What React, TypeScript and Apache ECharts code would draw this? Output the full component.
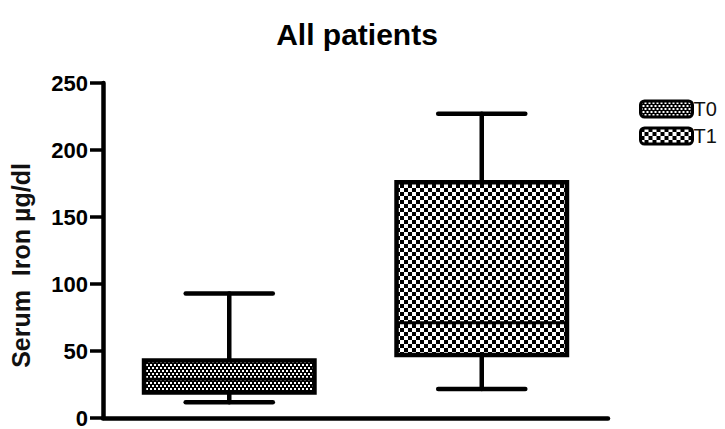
import React, { useEffect, useRef } from "react";
import * as echarts from "echarts";

const categories = ["T0", "T1"];
const lowWhisker = [11.7, 21.6];
const q1 = [19, 47];
const median = [29, 71];
const q3 = [43, 176];
const highWhisker = [93, 227];
const yTicks = { min: 0, max: 250, interval: 50 };

function makePattern(kind: "fine" | "coarse") {
  const c = document.createElement("canvas");
  if (kind === "fine") {
    c.width = 4;
    c.height = 6;
    const ctx = c.getContext("2d")!;
    ctx.fillStyle = "#000";
    ctx.fillRect(0, 0, 4, 6);
    ctx.fillStyle = "#fff";
    ctx.fillRect(0, 1, 2, 2);
    ctx.fillRect(2, 4, 2, 2);
  } else {
    c.width = 8;
    c.height = 8;
    const ctx = c.getContext("2d")!;
    ctx.fillStyle = "#fff";
    ctx.fillRect(0, 0, 8, 8);
    ctx.fillStyle = "#000";
    ctx.fillRect(0, 0, 4, 4);
    ctx.fillRect(4, 4, 4, 4);
  }
  return { image: c, repeat: "repeat" as const };
}

export default function App() {
  const ref = useRef<HTMLDivElement>(null);
  useEffect(() => {
    if (!ref.current) return;
    const chart = echarts.init(ref.current, undefined, { renderer: "svg" });
    const patterns = [makePattern("fine"), makePattern("coarse")];

    const renderItem = (idx: number, api: any) => {
      const x = api.value(0);
      const lo = api.value(1);
      const a = api.value(2);
      const m = api.value(3);
      const b = api.value(4);
      const hi = api.value(5);
      const band = api.size([1, 0])[0];
      const cx = api.coord([x, 0])[0];
      const yLo = api.coord([x, lo])[1];
      const yA = api.coord([x, a])[1];
      const yM = api.coord([x, m])[1];
      const yB = api.coord([x, b])[1];
      const yHi = api.coord([x, hi])[1];
      const boxW = band * 0.675;
      const capW = band * 0.345;
      const pat = patterns[idx];
      const lineStyle = { stroke: "#000", lineWidth: 4.5, lineCap: "round" };
      return {
        type: "group",
        children: [
          { type: "line", shape: { x1: cx, y1: yHi, x2: cx, y2: yB }, style: lineStyle },
          { type: "line", shape: { x1: cx, y1: yLo, x2: cx, y2: yA }, style: lineStyle },
          { type: "line", shape: { x1: cx - capW / 2, y1: yHi, x2: cx + capW / 2, y2: yHi }, style: lineStyle },
          { type: "line", shape: { x1: cx - capW / 2, y1: yLo, x2: cx + capW / 2, y2: yLo }, style: lineStyle },
          {
            type: "rect",
            shape: { x: cx - boxW / 2, y: yB, width: boxW, height: yA - yB },
            style: { fill: pat, stroke: "#000", lineWidth: 4.5 },
          },
          { type: "line", shape: { x1: cx - boxW / 2, y1: yM, x2: cx + boxW / 2, y2: yM }, style: { stroke: "#000", lineWidth: 3 } },
        ],
      };
    };

    chart.setOption({
      animation: false,
      backgroundColor: "#fff",
      title: {
        text: "All patients",
        left: 352,
        top: 14,
        textAlign: "center",
        textStyle: { fontFamily: "Liberation Sans, Arial", fontSize: 30, fontWeight: "bold", color: "#000" },
      },
      legend: {
        orient: "vertical",
        left: 634,
        top: 94,
        itemWidth: 52,
        itemHeight: 16,
        itemGap: 7,
        icon: "roundRect",
        textStyle: { fontFamily: "Liberation Sans, Arial", fontSize: 20, color: "#111", padding: [0, 0, 0, -4] },
        data: categories.map((c, i) => ({
          name: c,
          itemStyle: { color: patterns[i], borderColor: "#000", borderWidth: 3 },
        })),
      },
      grid: { left: 102, right: 117, top: 83, bottom: 10, containLabel: false },
      xAxis: {
        type: "category",
        data: categories,
        boundaryGap: true,
        axisLine: { lineStyle: { color: "#000", width: 4.5 } },
        axisTick: { alignWithLabel: true, length: 9, lineStyle: { color: "#000", width: 3 } },
        axisLabel: { show: false },
        splitLine: { show: false },
      },
      yAxis: {
        type: "value",
        min: yTicks.min,
        max: yTicks.max,
        interval: yTicks.interval,
        name: "Serum  Iron µg/dl",
        nameLocation: "middle",
        nameGap: 70,
        nameTextStyle: {
          fontFamily: "Liberation Sans, Arial",
          fontSize: 25,
          fontWeight: "bold",
          color: "#111",
          padding: [0, 30, 0, 0],
        },
        axisLine: { show: true, lineStyle: { color: "#000", width: 4.5 } },
        axisTick: { show: true, length: 13, lineStyle: { color: "#000", width: 3.5 } },
        axisLabel: {
          fontFamily: "Liberation Sans, Arial",
          fontSize: 22,
          fontWeight: "bold",
          color: "#000",
          margin: 15,
        },
        splitLine: { show: false },
      },
      series: categories.map((c, i) => ({
        type: "custom",
        name: c,
        itemStyle: { color: patterns[i] },
        renderItem: (params: any, api: any) => renderItem(i, api),
        data: [[i, lowWhisker[i], q1[i], median[i], q3[i], highWhisker[i]]],
        encode: { x: 0, y: [1, 2, 3, 4, 5] },
      })),
    });
    return () => chart.dispose();
  }, []);
  return (
    <div
      ref={ref}
      style={{ position: "absolute", left: 0, top: 0, width: 725, height: 429 }}
    />
  );
}
